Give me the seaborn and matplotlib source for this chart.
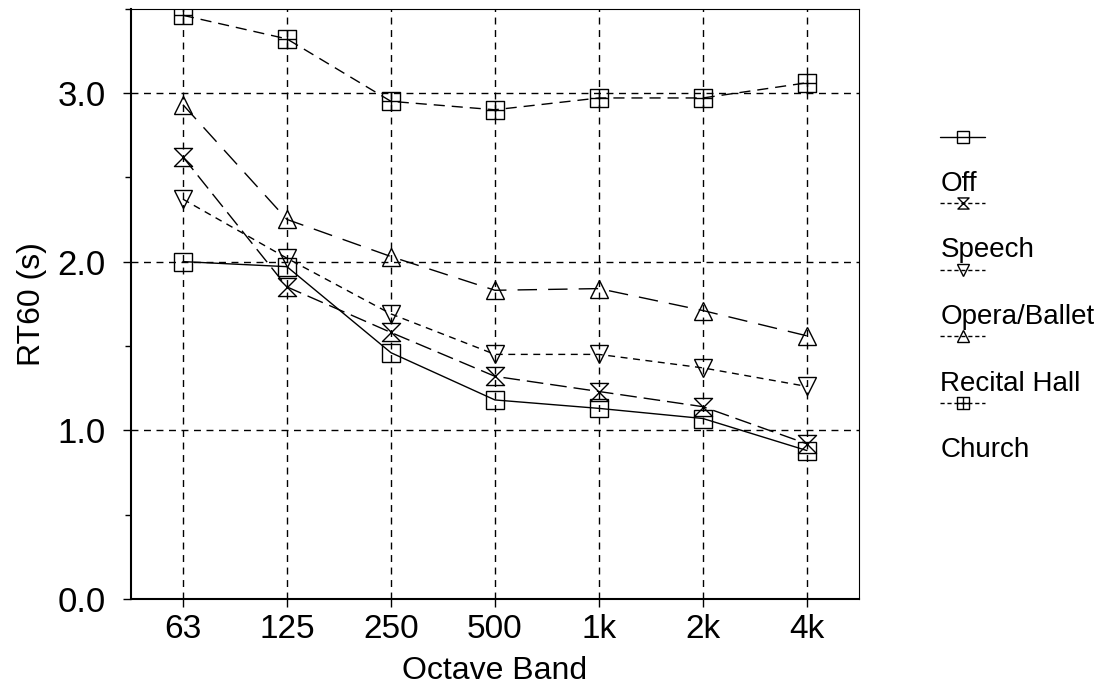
import numpy as np
import pandas as pd
import matplotlib
matplotlib.use('Agg')
import matplotlib.pyplot as plt
from matplotlib.path import Path
from matplotlib.lines import Line2D
from matplotlib.legend_handler import HandlerLine2D
from matplotlib.ticker import MultipleLocator
import seaborn as sns

# --- Data ---
bands = ['63', '125', '250', '500', '1k', '2k', '4k']
off = [2.00, 1.97, 1.46, 1.18, 1.13, 1.07, 0.88]
speech = [2.62, 1.85, 1.58, 1.32, 1.23, 1.14, 0.92]
opera = [2.37, 2.02, 1.69, 1.45, 1.45, 1.37, 1.26]
recital = [2.93, 2.25, 2.03, 1.83, 1.84, 1.71, 1.56]
church = [3.46, 3.32, 2.95, 2.90, 2.97, 2.97, 3.06]

series_names = ['Off', 'Speech', 'Opera/Ballet', 'Recital Hall', 'Church']
series_values = [off, speech, opera, recital, church]

# --- Custom markers ---
hourglass = Path([(-1, 1), (1, 1), (-1, -1), (1, -1), (-1, 1)],
                 [Path.MOVETO, Path.LINETO, Path.LINETO, Path.LINETO, Path.CLOSEPOLY])
boxcross = Path([(-1, -1), (1, -1), (1, 1), (-1, 1), (-1, -1),
                 (0, -1), (0, 1), (-1, 0), (1, 0)],
                [Path.MOVETO, Path.LINETO, Path.LINETO, Path.LINETO, Path.CLOSEPOLY,
                 Path.MOVETO, Path.LINETO, Path.MOVETO, Path.LINETO])

styles = {
    'Off': dict(marker='s', dashes=None),
    'Speech': dict(marker=hourglass, dashes=(12, 5)),
    'Opera/Ballet': dict(marker='v', dashes=(5, 4)),
    'Recital Hall': dict(marker='^', dashes=(14, 8)),
    'Church': dict(marker=boxcross, dashes=(8, 5)),
}


# legend handle sits above its label, like the original
class HandlerAbove(HandlerLine2D):
    def create_artists(self, legend, orig_handle, xdescent, ydescent,
                       width, height, fontsize, trans):
        return super().create_artists(legend, orig_handle, xdescent, ydescent - 64,
                                      width, height, fontsize, trans)


sns.set_theme(style='ticks')
plt.rcParams['font.family'] = ['Liberation Sans', 'DejaVu Sans']

fig = plt.figure(figsize=(11.07, 6.89), dpi=100)
ax = fig.add_axes([0.1183, 0.1306, 0.6576, 0.857])

x_pos = np.arange(len(bands))
legend_handles = []
for name, vals in zip(series_names, series_values):
    st = styles[name]
    df = pd.DataFrame({'band': x_pos, 'rt60': vals})
    sns.lineplot(data=df, x='band', y='rt60', ax=ax, color='black', linewidth=1.0,
                 marker=st['marker'], markersize=13, markerfacecolor='none',
                 markeredgecolor='black', markeredgewidth=1.0)
    ln = ax.lines[-1]
    if st['dashes'] is not None:
        ln.set_dashes(st['dashes'])
    h = Line2D([], [], color='black', linewidth=1.0, marker=st['marker'], markersize=8,
               markerfacecolor='none', markeredgecolor='black', markeredgewidth=1.0)
    if st['dashes'] is not None:
        h.set_dashes((3, 2))
    legend_handles.append(h)

ax.set_xlim(-0.5, len(bands) - 0.5)
ax.set_ylim(0, 3.5)
ax.set_xticks(x_pos)
ax.set_xticklabels(bands)
ax.yaxis.set_major_locator(MultipleLocator(1.0))
ax.yaxis.set_minor_locator(MultipleLocator(0.5))
ax.set_yticks([0, 1, 2, 3])
ax.set_yticklabels(['0.0', '1.0', '2.0', '3.0'])
ax.tick_params(axis='x', which='major', labelsize=24, direction='out', length=6,
               width=1, color='black', labelcolor='black', pad=5)
ax.tick_params(axis='y', which='major', labelsize=25, direction='out', length=6,
               width=1, color='black', labelcolor='black', pad=12)
ax.tick_params(axis='y', which='minor', direction='out', length=4, width=1, color='black')
ax.grid(True, which='major', color='black', linestyle=(0, (5, 4)), linewidth=1.0)

for side in ['left', 'bottom', 'top', 'right']:
    ax.spines[side].set_visible(True)
    ax.spines[side].set_color('black')
ax.spines['left'].set_linewidth(1.5)
ax.spines['bottom'].set_linewidth(1.5)
ax.spines['top'].set_linewidth(0.8)
ax.spines['right'].set_linewidth(0.8)

ax.set_xlabel('Octave Band', fontsize=23, color='black', labelpad=8)
ax.set_ylabel('RT60 (s)', fontsize=23, color='black', labelpad=8)

ax.legend(legend_handles, series_names, loc='upper left',
          bbox_to_anchor=(1.112, 0.725), frameon=False, fontsize=20,
          labelcolor='black',
          handlelength=1.6, handletextpad=-1.6, labelspacing=1.46,
          borderaxespad=0, borderpad=0,
          handler_map={Line2D: HandlerAbove()})

fig.savefig('out.png', dpi=100)
